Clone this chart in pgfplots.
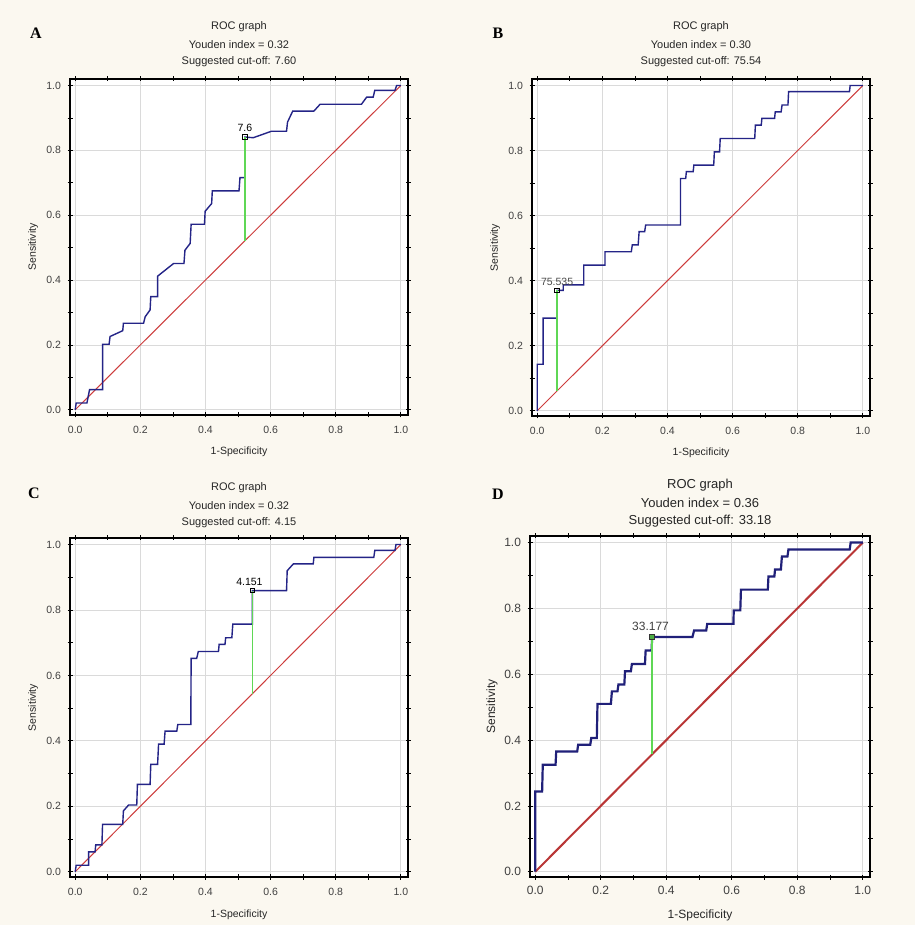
\documentclass[border=0pt]{standalone}
\usepackage{fontspec}
\setmainfont{Liberation Sans}
\newfontfamily\letterfont{Liberation Serif}
\usepackage{pgfplots}
\pgfplotsset{compat=1.18}

\definecolor{bgcream}{RGB}{251,248,240}
\definecolor{rocblue}{RGB}{36,36,135}
\definecolor{rocred}{RGB}{205,60,60}
\definecolor{rocgreen}{RGB}{95,215,85}
\definecolor{gridgray}{RGB}{218,218,218}

\pgfplotsset{
  rocax/.style={
    scale only axis,
    anchor=south west,
    xmin=-0.016, xmax=1.022, ymin=-0.016, ymax=1.02,
    xtick={0,0.2,0.4,0.6,0.8,1}, ytick={0,0.2,0.4,0.6,0.8,1},
    minor tick num=1,
    grid=major,
    major grid style={gridgray, line width=0.8pt},
    axis line style={black, line width=1.1pt},
    tick style={black, line width=0.8pt},
    tick align=center,
    major tick length=5pt, minor tick length=5pt,
    axis background/.style={fill=white},
    /pgf/number format/.cd, fixed, fixed zerofill, precision=1, assume math mode=true,
  },
  rocsmall/.style={
    rocax,
    ticklabel style={font=\fontsize{10.5}{12}\selectfont, text=black!75},
    label style={font=\fontsize{10.5}{12}\selectfont, text=black!85},
    xticklabel style={yshift=-5pt},
    yticklabel style={xshift=-3pt},
    xlabel style={at={(axis description cs:0.5,-0.110)}, anchor=center},
    ylabel style={at={(axis description cs:-0.109,0.5)}, anchor=center},
    xlabel={1-Specificity}, ylabel={Sensitivity},
  },
}

\begin{document}
\begin{tikzpicture}
\fill[bgcream] (0,0) rectangle (915pt,925pt);

% panel letters
\node[font=\letterfont\bfseries\fontsize{16}{18}\selectfont] at (36pt,892pt) {A};
\node[font=\letterfont\bfseries\fontsize{16}{18}\selectfont] at (498pt,892pt) {B};
\node[font=\letterfont\bfseries\fontsize{16}{18}\selectfont] at (34pt,432pt) {C};
\node[font=\letterfont\bfseries\fontsize{16}{18}\selectfont] at (498pt,431pt) {D};

% titles
\begin{scope}[every node/.style={font=\fontsize{11}{13}\selectfont, text=black!85}]
\node at (239pt,898pt) {ROC graph};
\node at (239pt,880pt) {Youden index = 0.32};
\node at (239pt,863pt) {Suggested cut-off: 7.60};
\node at (701pt,898pt) {ROC graph};
\node at (701pt,880pt) {Youden index = 0.30};
\node at (701pt,863pt) {Suggested cut-off: 75.54};
\node at (239pt,437pt) {ROC graph};
\node at (239pt,419pt) {Youden index = 0.32};
\node at (239pt,402pt) {Suggested cut-off: 4.15};
\end{scope}
\begin{scope}[every node/.style={font=\fontsize{13}{15}\selectfont, text=black!85}]
\node at (700pt,440pt) {ROC graph};
\node at (700pt,422pt) {Youden index = 0.36};
\node at (700pt,404pt) {Suggested cut-off: 33.18};
\end{scope}

% ---------- A ----------
\begin{axis}[rocsmall, at={(70pt,510pt)}, width=338pt, height=336pt]
\addplot[rocred, line width=1pt] coordinates {(0,0) (1,1)};
\addplot[rocblue, line width=1.4pt] coordinates {
(0,0) (0.003,0.021) (0.036,0.021) (0.044,0.062) (0.084,0.062) (0.084,0.202)
(0.104,0.202) (0.107,0.226) (0.146,0.244) (0.148,0.267) (0.210,0.267)
(0.215,0.287) (0.230,0.308) (0.232,0.349) (0.253,0.349) (0.253,0.412)
(0.302,0.451) (0.334,0.451) (0.337,0.492) (0.353,0.513) (0.356,0.572)
(0.397,0.572) (0.399,0.612) (0.419,0.636) (0.421,0.675) (0.503,0.675)
(0.506,0.716) (0.521,0.716) (0.521,0.841) (0.547,0.839) (0.603,0.859)
(0.649,0.859) (0.652,0.887) (0.668,0.921) (0.733,0.921) (0.752,0.942)
(0.879,0.942) (0.895,0.964) (0.915,0.964) (0.920,0.985) (0.982,0.985)
(0.987,1.0) (1,1)};
\addplot[rocgreen, line width=1.5pt] coordinates {(0.521,0.521) (0.521,0.841)};
\addplot[only marks, mark=square, mark size=2.2pt, mark options={black, fill=white, line width=0.9pt}] coordinates {(0.521,0.841)};
\node[font=\fontsize{10.5}{12}\selectfont, anchor=south] at (axis cs:0.521,0.846) {7.6};
\end{axis}

% ---------- B ----------
\begin{axis}[rocsmall, at={(532pt,509pt)}, width=338pt, height=337pt]
\addplot[rocred, line width=1pt] coordinates {(0,0) (1,1)};
\addplot[rocblue, line width=1.4pt] coordinates {
(0,0) (0,0.143) (0.018,0.143) (0.018,0.285) (0.061,0.285) (0.061,0.370)
(0.080,0.370) (0.080,0.387) (0.143,0.387) (0.143,0.448) (0.208,0.448)
(0.208,0.489) (0.289,0.489) (0.292,0.510) (0.310,0.510) (0.313,0.551)
(0.330,0.551) (0.333,0.571) (0.440,0.571) (0.440,0.714) (0.456,0.714)
(0.458,0.735) (0.479,0.735) (0.481,0.755) (0.542,0.755) (0.544,0.796)
(0.560,0.796) (0.562,0.837) (0.668,0.837) (0.670,0.878) (0.688,0.878)
(0.690,0.899) (0.729,0.899) (0.731,0.919) (0.749,0.919) (0.752,0.940)
(0.770,0.940) (0.772,0.981) (0.959,0.981) (0.961,1.0) (1,1)};
\addplot[rocgreen, line width=1.5pt] coordinates {(0.061,0.061) (0.061,0.370)};
\addplot[only marks, mark=square, mark size=2.2pt, mark options={black, fill=white, line width=0.9pt}] coordinates {(0.061,0.370)};
\node[font=\fontsize{10.5}{12}\selectfont, anchor=south, text=black!70] at (axis cs:0.061,0.374) {75.535};
\end{axis}

% ---------- C ----------
\begin{axis}[rocsmall, at={(70pt,48pt)}, width=338pt, height=339pt]
\addplot[rocred, line width=1pt] coordinates {(0,0) (1,1)};
\addplot[rocblue, line width=1.4pt] coordinates {
(0,0) (0.003,0.020) (0.041,0.020) (0.041,0.061) (0.061,0.061) (0.063,0.082)
(0.082,0.082) (0.084,0.145) (0.146,0.145) (0.148,0.186) (0.164,0.204)
(0.189,0.204) (0.191,0.267) (0.230,0.267) (0.232,0.328) (0.253,0.328)
(0.256,0.390) (0.273,0.390) (0.276,0.430) (0.312,0.430) (0.315,0.450)
(0.355,0.450) (0.356,0.652) (0.373,0.652) (0.378,0.673) (0.440,0.673)
(0.442,0.695) (0.460,0.695) (0.462,0.715) (0.481,0.715) (0.484,0.757)
(0.544,0.757) (0.544,0.859) (0.649,0.859) (0.651,0.920) (0.670,0.941)
(0.731,0.941) (0.733,0.961) (0.917,0.961) (0.920,0.982) (0.982,0.982)
(0.985,1.0) (1,1)};
\addplot[rocgreen, line width=1.7pt] coordinates {(0.544,0.544) (0.544,0.859)};
\addplot[only marks, mark=square, mark size=2.2pt, mark options={black, fill=white, line width=0.9pt}] coordinates {(0.544,0.859)};
\node[font=\fontsize{10.5}{12}\selectfont, anchor=south] at (axis cs:0.535,0.864) {4.151};
\end{axis}

% ---------- D ----------
\begin{axis}[rocax, at={(530pt,48pt)}, width=340pt, height=341pt,
  ticklabel style={font=\fontsize{12}{14}\selectfont, text=black!75},
  label style={font=\fontsize{12}{14}\selectfont, text=black!85},
  xticklabel style={yshift=-3pt},
  yticklabel style={xshift=-3pt},
  xlabel style={at={(axis description cs:0.5,-0.112)}, anchor=center},
  ylabel style={at={(axis description cs:-0.112,0.5)}, anchor=center},
  xlabel={1-Specificity}, ylabel={Sensitivity}]
\addplot[rocred!90!black, line width=2pt] coordinates {(0,0) (1,1)};
\addplot[rocblue!90!black, line width=2.2pt] coordinates {
(0,0) (0,0.244) (0.021,0.244) (0.023,0.325) (0.062,0.325) (0.064,0.365)
(0.128,0.365) (0.131,0.386) (0.168,0.386) (0.171,0.406) (0.188,0.406)
(0.190,0.510) (0.231,0.510) (0.234,0.548) (0.251,0.548) (0.254,0.569)
(0.272,0.569) (0.274,0.609) (0.292,0.609) (0.295,0.631) (0.335,0.631)
(0.337,0.672) (0.355,0.672) (0.357,0.713) (0.480,0.713) (0.485,0.733)
(0.522,0.733) (0.525,0.753) (0.605,0.753) (0.606,0.794) (0.626,0.794)
(0.628,0.857) (0.710,0.857) (0.712,0.897) (0.730,0.897) (0.732,0.918)
(0.750,0.918) (0.753,0.958) (0.770,0.958) (0.773,0.979) (0.960,0.979)
(0.963,1.0) (1,1)};
\addplot[rocgreen, line width=2pt] coordinates {(0.357,0.357) (0.357,0.713)};
\addplot[only marks, mark=square*, mark size=2.6pt, mark options={draw=black!80, fill=rocgreen!80!black, line width=0.9pt}] coordinates {(0.357,0.713)};
\node[font=\fontsize{12}{14}\selectfont, anchor=south, text=black!75] at (axis cs:0.352,0.722) {33.177};
\end{axis}
\end{tikzpicture}
\end{document}
